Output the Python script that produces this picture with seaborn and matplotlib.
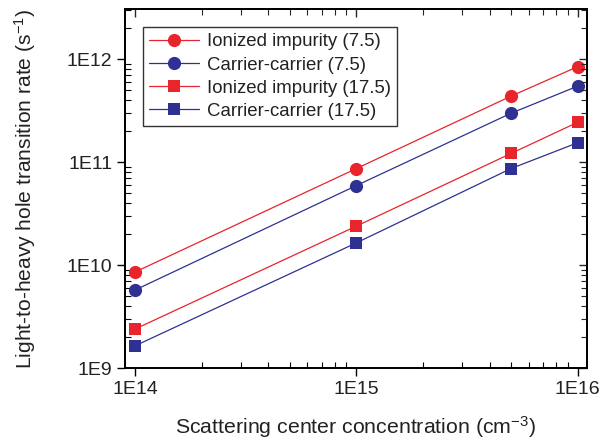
import numpy as np
import pandas as pd
import matplotlib
matplotlib.use("Agg")
import matplotlib.pyplot as plt
import seaborn as sns
from matplotlib.ticker import FixedLocator, FixedFormatter, LogLocator, NullFormatter

sns.set_style("white")
plt.rcParams['font.family'] = ['Liberation Sans', 'DejaVu Sans']
plt.rcParams['mathtext.fontset'] = 'custom'
plt.rcParams['mathtext.rm'] = 'Liberation Sans'
plt.rcParams['mathtext.it'] = 'Liberation Sans:italic'

concentration = [1e14, 1e15, 5e15, 1e16]
ionized_75 = [8.6e9, 8.7e10, 4.4e11, 8.5e11]
carrier_75 = [5.75e9, 5.95e10, 3.0e11, 5.5e11]
ionized_175 = [2.4e9, 2.4e10, 1.22e11, 2.45e11]
carrier_175 = [1.65e9, 1.65e10, 8.7e10, 1.55e11]

series_names = ["Ionized impurity (7.5)", "Carrier-carrier (7.5)",
                "Ionized impurity (17.5)", "Carrier-carrier (17.5)"]
series_values = [ionized_75, carrier_75, ionized_175, carrier_175]
colors = ["#e8242c", "#2e3192", "#e8242c", "#2e3192"]
markers = ["o", "o", "s", "s"]

x_ticks = [1e14, 1e15, 1e16]
x_tick_labels = ["1E14", "1E15", "1E16"]
y_ticks = [1e9, 1e10, 1e11, 1e12]
y_tick_labels = ["1E9", "1E10", "1E11", "1E12"]

df = pd.DataFrame({
    "x": np.tile(concentration, len(series_names)),
    "y": np.concatenate(series_values),
    "series": np.repeat(series_names, len(concentration)),
})

fig = plt.figure(figsize=(6.1, 4.43), dpi=100)
ax = fig.add_axes([0.205, 0.169, 0.757, 0.811])

for name, col, mk in zip(series_names, colors, markers):
    sub = df[df["series"] == name]
    sns.lineplot(data=sub, x="x", y="y", ax=ax, color=col, marker=mk,
                 markersize=9.5 if mk == "o" else 8.5, markeredgewidth=0,
                 linewidth=0.9, label=name, sort=False)

ax.set_xscale("log")
ax.set_yscale("log")
ax.set_xlim(9.0e13, 1.1e16)
ax.set_ylim(1e9, 3.1e12)

ax.xaxis.set_major_locator(FixedLocator(x_ticks))
ax.xaxis.set_major_formatter(FixedFormatter(x_tick_labels))
ax.yaxis.set_major_locator(FixedLocator(y_ticks))
ax.yaxis.set_major_formatter(FixedFormatter(y_tick_labels))
for axis in (ax.xaxis, ax.yaxis):
    axis.set_minor_locator(LogLocator(base=10, subs=np.arange(2, 10), numticks=20))
    axis.set_minor_formatter(NullFormatter())

ax.tick_params(axis="both", which="major", direction="out", length=6, width=1,
               labelsize=14, color="black", labelcolor="#222222", pad=3,
               bottom=True, left=True)
ax.tick_params(axis="both", which="minor", direction="in", length=4, width=0.8,
               color="black", bottom=True, left=True)

# top / right inward ticks
axr = ax.twinx()
axr.set_yscale("log")
axr.set_ylim(ax.get_ylim())
axr.yaxis.set_major_locator(FixedLocator(y_ticks))
axr.yaxis.set_minor_locator(LogLocator(base=10, subs=np.arange(2, 10), numticks=20))
axr.yaxis.set_major_formatter(NullFormatter())
axr.yaxis.set_minor_formatter(NullFormatter())
axr.tick_params(axis="y", which="major", direction="in", length=6, width=1, right=True)
axr.tick_params(axis="y", which="minor", direction="in", length=4, width=0.8, right=True)

axt = ax.twiny()
axt.set_xscale("log")
axt.set_xlim(ax.get_xlim())
axt.xaxis.set_major_locator(FixedLocator(x_ticks))
axt.xaxis.set_minor_locator(LogLocator(base=10, subs=np.arange(2, 10), numticks=20))
axt.xaxis.set_major_formatter(NullFormatter())
axt.xaxis.set_minor_formatter(NullFormatter())
axt.tick_params(axis="x", which="major", direction="in", length=6, width=1, top=True)
axt.tick_params(axis="x", which="minor", direction="in", length=4, width=0.8, top=True)

for a in (ax, axr, axt):
    for sp in a.spines.values():
        sp.set_color("black")
        sp.set_linewidth(1.2)

ax.set_xlabel(r"Scattering center concentration (cm$^{-3}$)", fontsize=15.3,
              color="#222222", labelpad=12)
ax.set_ylabel(r"Light-to-heavy hole transition rate (s$^{-1}$)", fontsize=15.1,
              color="#222222")
ax.yaxis.set_label_coords(-0.188, 0.5)

leg = ax.legend(loc="upper left", bbox_to_anchor=(0.038, 0.95), fontsize=13.4,
                frameon=True, fancybox=False, edgecolor="black",
                handlelength=2.7, handletextpad=0.4, borderpad=0.35,
                labelspacing=0.33, borderaxespad=0)
leg.get_frame().set_linewidth(1.0)
for t in leg.get_texts():
    t.set_color("#222222")

fig.savefig("out.png", dpi=100)
